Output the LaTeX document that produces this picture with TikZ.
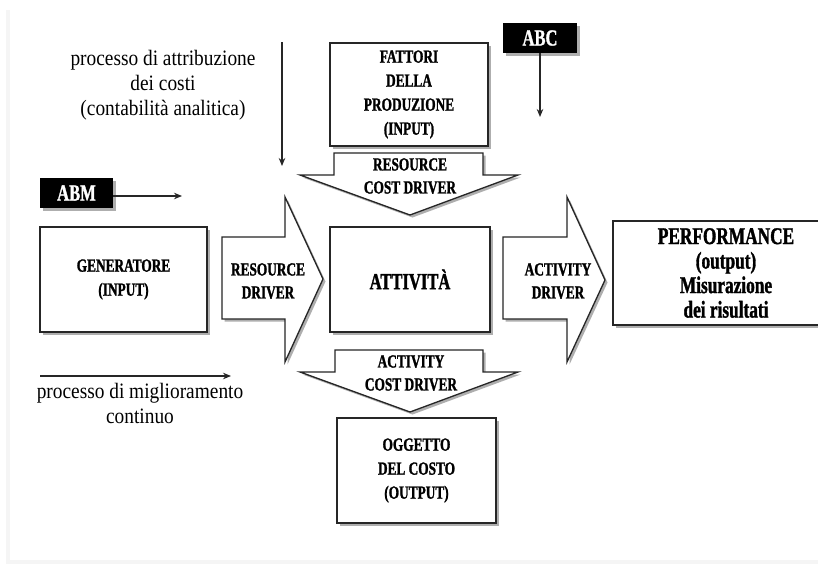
\documentclass[tikz,border=0pt]{standalone}
\usepackage{fontspec}
\setmainfont{Liberation Serif}
\newfontfamily\cond{Liberation Serif}[FakeStretch=0.72,BoldFeatures={FakeBold=1.3}]
\newfontfamily\narrow{Liberation Serif}[FakeStretch=0.88]
\usetikzlibrary{shadows,arrows.meta}
\tikzset{
  shad/.style={drop shadow={shadow xshift=2.5pt,shadow yshift=-2.5pt,opacity=0.45,fill=black!70}},
  box/.style={draw=black!85,line width=1.3pt,fill=white,shad,align=center,inner sep=0pt,
    font=\cond\bfseries\fontsize{18.5}{24}\selectfont},
  tag/.style={fill=black,text=white,shad,inner sep=0pt,
    font=\cond\bfseries\fontsize{23}{24}\selectfont},
  blockarrow/.style={draw=black!85,line width=1.3pt,fill=white,line join=miter,shad},
  lbl/.style={align=center,inner sep=0pt,font=\cond\bfseries\fontsize{18.5}{23}\selectfont},
  plain/.style={align=center,inner sep=0pt,font=\narrow\fontsize{22}{25}\selectfont},
  thin/.style={line width=2.1pt,black!85,-{Stealth[length=8pt,width=6.5pt]},shorten >=0pt}
}
\begin{document}
\begin{tikzpicture}[x=1pt,y=-1pt]
\useasboundingbox (0,0) rectangle (818,565);
\clip (0,0) rectangle (818,565);
\fill[white] (0,0) rectangle (818,565);
\draw[black!4,line width=4pt] (8,10) -- (8,562) -- (830,562);

% boxes
\node[box,minimum width=158pt,minimum height=103pt] (fatt) at (409,94.5)
  {FATTORI\\DELLA\\PRODUZIONE\\(INPUT)};
\node[box,minimum width=167pt,minimum height=105pt] (gen) at (123.5,279.5)
  {GENERATORE\\(INPUT)};
\node[box,minimum width=160pt,minimum height=105pt,font=\cond\bfseries\fontsize{23}{26}\selectfont] (att) at (410,279.5)
  {ATTIVITÀ};
\node[box,minimum width=226pt,minimum height=104pt,font=\cond\bfseries\fontsize{24}{24.5}\selectfont] (perf) at (726,273)
  {PERFORMANCE\\(output)\\Misurazione\\dei risultati};
\node[box,minimum width=159pt,minimum height=105pt] (ogg) at (416.5,470.5)
  {OGGETTO\\DEL COSTO\\(OUTPUT)};

% tags
\node[tag,minimum width=74pt,minimum height=30pt] (abc) at (540,38) {ABC};
\node[tag,minimum width=73pt,minimum height=30pt] (abm) at (76.5,193) {ABM};

% block arrows
\draw[blockarrow] (334,153) -- (483,153) -- (483,175) -- (518,175) -- (410,215) -- (300,175) -- (334,175) -- cycle;
\node[lbl] (rcd) at (410,176) {RESOURCE\\COST DRIVER};

\draw[blockarrow] (335,350) -- (483,350) -- (483,372) -- (518,372) -- (410,412) -- (300,372) -- (335,372) -- cycle;
\node[lbl] (acd) at (411,373) {ACTIVITY\\COST DRIVER};

\draw[blockarrow] (222,237) -- (285,237) -- (285,197) -- (323,279) -- (285,362) -- (285,319) -- (222,319) -- cycle;
\node[lbl] (rd) at (268,281) {RESOURCE\\DRIVER};

\draw[blockarrow] (503,237) -- (567,237) -- (567,197) -- (605,280) -- (567,362) -- (567,319) -- (503,319) -- cycle;
\node[lbl] (ad) at (558,281) {ACTIVITY\\DRIVER};

% thin arrows
\coordinate (abcend) at (540,117);
\draw[thin] (abc.south) -- (abcend);
\coordinate (abmend) at (182,196);
\draw[thin] (abm.east |- abmend) -- (abmend);
\coordinate (vtop) at (282,42);
\coordinate (vbot) at (282,166);
\draw[thin] (vtop) -- (vbot);
\coordinate (hl) at (40,376);
\coordinate (hr) at (231,376);
\draw[thin] (hl) -- (hr);

% texts
\node[plain] (attr) at (163,85) {processo di attribuzione\\dei costi\\(contabilità analitica)};
\node[plain] (migl) at (140,403) {processo di miglioramento\\continuo};
\end{tikzpicture}
\end{document}
